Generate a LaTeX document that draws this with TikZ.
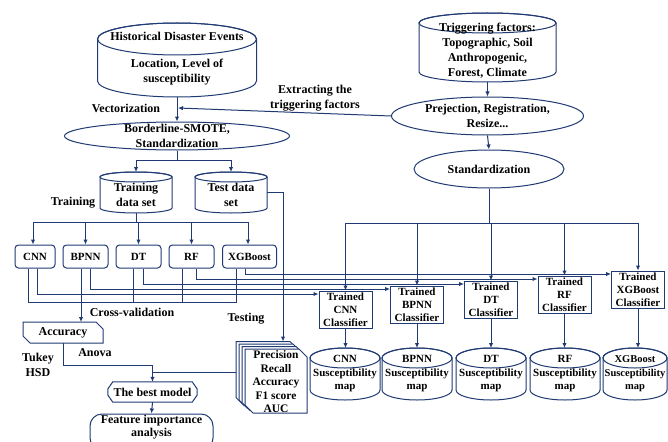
\documentclass[tikz,border=0pt]{standalone}
\usepackage{fontspec}
\setmainfont{Liberation Serif}
\usetikzlibrary{arrows.meta,shapes.geometric}
\definecolor{lc}{RGB}{32,58,115}
\tikzset{
  ln/.style={draw=lc, line width=1pt},
  arr/.style={ln, -{Latex[length=5pt,width=4.5pt]}},
  txt/.style={font=\fontsize{12}{15}\selectfont\bfseries, align=center, inner sep=0},
  stxt/.style={font=\fontsize{11}{13.5}\selectfont\bfseries, align=center, inner sep=0},
  mbox/.style={ln, fill=white, rounded corners=3.5pt, minimum height=23pt, inner sep=0, font=\fontsize{11}{13}\selectfont\bfseries},
  tbox/.style={ln, fill=white, minimum width=53pt, minimum height=37pt, inner sep=0, align=center, font=\fontsize{11}{13}\selectfont\bfseries},
  hole/.style={minimum width=#1, inner sep=0, outer sep=0},
  ell/.style={ellipse, ln, fill=white, inner sep=0}
}
% cylinder: name, x, y, width, height, ellipse radius
\newcommand\cyl[6]{%
  \node[inner sep=0, outer sep=0, minimum width=#4pt, minimum height=#5pt] (#1) at (#2,#3) {};
  \draw[ln, fill=white] ([yshift=-#6pt]#1.north west) -- ([yshift=#6pt]#1.south west)
     arc[start angle=180, end angle=360, x radius=0.5*#4pt, y radius=#6pt]
     -- ([yshift=-#6pt]#1.north east)
     arc[start angle=0, end angle=180, x radius=0.5*#4pt, y radius=#6pt] -- cycle;
  \draw[ln] ([yshift=-#6pt]#1.north) ellipse[x radius=0.5*#4pt, y radius=#6pt];
}
% box with chamfered north-east and south-west corners
\newcommand\chamfbox[2]{%
  \draw[ln, fill=white] (#1.north west) -- ([xshift=-#2]#1.north east) -- ([yshift=-#2]#1.north east)
     -- (#1.south east) -- ([xshift=#2]#1.south west) -- ([yshift=#2]#1.south west) -- cycle;
}
\begin{document}
\begin{tikzpicture}[x=1pt, y=-1pt]
\useasboundingbox (0,0) rectangle (668,441);
\clip (0,0) rectangle (668,441);
\fill[white] (0,0) rectangle (668,441);

% ---------- left column top ----------
\cyl{hist}{177}{60}{159}{74}{16}
\node[txt] (histA) at (177,36) {Historical Disaster Events};
\node[txt] (histB) at (177,72) {Location, Level of\\susceptibility};

\node[ell, minimum width=225pt, minimum height=28pt] (bsm) at (177,136) {};
\node[txt] (bsmT) at (177,136) {Borderline-SMOTE,\\Standardization};

\node[txt] (vec) at (126,108) {Vectorization};

\cyl{train}{136}{192.5}{72}{41}{5}
\node[txt] (trainT) at (136,195) {Training\\data set};
\cyl{test}{231}{192.5}{72}{41}{5}
\node[txt] (testT) at (231,195) {Test data\\set};
\node[txt] (trainL) at (73,203) {Training};

% ---------- right column top ----------
\cyl{trig}{487.5}{47.5}{137}{69}{10}
\node[txt] (trigT) at (487.5,50.5) {Triggering factors:\\Topographic, Soil\\Anthropogenic,\\Forest, Climate};
\node[ell, minimum width=192pt, minimum height=38pt] (prej) at (487.5,116) {};
\node[txt] (prejT) at (487.5,116) {Prejection, Registration,\\Resize...};
\node[ell, minimum width=150pt, minimum height=38pt] (std) at (489,169) {};
\node[txt] (stdT) at (489,169) {Standardization};
\node[txt] (extr) at (315,98) {Extracting the\\triggering factors};

\draw[arr] (hist.south) -- (bsm.north);
\draw[arr] (trig.south) -- (prej.north);
\draw[arr] (prej.south) -- (std.north);
\coordinate (ex) at (178,108);
\draw[arr] (prej.west) -- (ex);

\coordinate (s1) at (177,160);
\draw[ln] (bsm.south) -- (s1);
\draw[arr] (s1) -| (train.north);
\draw[arr] (s1) -| (test.north);

% ---------- models ----------
\node[mbox, minimum width=40pt] (cnn) at (35,256.5) {CNN};
\node[mbox, minimum width=45pt] (bpnn) at (85.5,256.5) {BPNN};
\node[mbox, minimum width=45pt] (dt) at (138.5,256.5) {DT};
\node[mbox, minimum width=45pt] (rf) at (191.5,256.5) {RF};
\node[mbox, minimum width=54pt] (xgb) at (249.5,256.5) {XGBoost};

\coordinate (mb) at (136,222);
\draw[ln] (train.south) -- (mb);
\draw[arr] (mb) -| ([xshift=-2pt]cnn.north);
\draw[arr] (mb) -| (bpnn.north);
\draw[arr] (mb) -| (dt.north);
\draw[arr] (mb) -| (rf.north);
\draw[arr] (mb) -| ([xshift=-1.5pt]xgb.north);

% ---------- trained classifiers ----------
\node[tbox] (tcnn) at (345.5,309.5) {Trained\\CNN\\Classifier};
\node[tbox] (tbpnn) at (417,304.5) {Trained\\BPNN\\Classifier};
\node[tbox] (tdt) at (491,299.5) {Trained\\DT\\Classifier};
\node[tbox] (trf) at (564.5,294.5) {Trained\\RF\\Classifier};
\node[tbox] (txgb) at (638,289.5) {Trained\\XGBoost\\Classifier};

\coordinate (sb) at (489,223);
\draw[ln] (std.south) -- (sb);
\draw[arr] (sb) -| (tcnn.north);
\draw[arr] (sb) -| (tbpnn.north);
\draw[arr] (sb) -| (tdt.north);
\draw[arr] (sb) -| (trf.north);
\draw[arr] (sb) -| (txgb.north);

% model -> trained classifier
\draw[arr] ([xshift=2pt]cnn.south) |- ([yshift=15.5pt]tcnn.west);
\draw[arr] ([xshift=4.5pt]bpnn.south) |- ([yshift=15.5pt]tbpnn.west);
\draw[arr] ([xshift=4.5pt]dt.south) |- ([yshift=15.5pt]tdt.west);
\draw[arr] ([xshift=4.5pt]rf.south) |- ([yshift=15.5pt]trf.west);
\draw[arr] ([xshift=-4.5pt]xgb.south) |- ([yshift=15.5pt]txgb.west);

% cross-validation bus
\draw[ln] ([xshift=-7pt]cnn.south) -- ++(0,34) -| ([xshift=-13.5pt]xgb.south);
\draw[ln] ([xshift=-5.5pt]dt.south) -- ++(0,34);
\draw[ln] ([xshift=-9.5pt]rf.south) -- ++(0,34);
\node[txt] (cvL) at (132,312) {Cross-validation};

% ---------- susceptibility maps ----------
\cyl{scnn}{345}{374}{70}{52}{10}
\node[stxt] (scnnT) at (345,374) {CNN\\Susceptibility\\map};
\cyl{sbpnn}{417}{374}{70}{52}{10}
\node[stxt] (sbpnnT) at (417,374) {BPNN\\Susceptibility\\map};
\cyl{sdt}{491}{374}{70}{52}{10}
\node[stxt] (sdtT) at (491,374) {DT\\Susceptibility\\map};
\cyl{srf}{565}{374}{70}{52}{10}
\node[stxt] (srfT) at (565,374) {RF\\Susceptibility\\map};
\cyl{sxgb}{635}{374}{64}{52}{10}
\node[stxt, font=\fontsize{10.5}{13.5}\selectfont\bfseries] (sxgbT) at (635,374) {XGBoost\\Susceptibility\\map};
\draw[arr] (tcnn.south) -- (tcnn.south |- scnn.north);
\draw[arr] (tbpnn.south) -- (tbpnn.south |- sbpnn.north);
\draw[arr] (tdt.south) -- (tdt.south |- sdt.north);
\draw[arr] (trf.south) -- (trf.south |- srf.north);
\draw[arr] (txgb.south) -- (txgb.south |- sxgb.north);

% ---------- evaluation stack ----------
\node[hole=62pt, minimum height=64pt] (st3) at (267,373.5) {};
\node[hole=62pt, minimum height=64pt] (st2) at (270,376) {};
\node[hole=62pt, minimum height=64pt] (st1) at (273,378.5) {};
\node[hole=62pt, minimum height=64pt] (st0) at (276,381) {};
\chamfbox{st3}{8pt}
\chamfbox{st2}{8pt}
\chamfbox{st1}{8pt}
\chamfbox{st0}{8pt}
\node[font=\fontsize{11.5}{13.5}\selectfont\bfseries, align=center, inner sep=0] (stT) at (276,382) {Precision\\Recall\\Accuracy\\F1 score\\AUC};
\coordinate (tx) at (283,0);
\draw[arr] (test.east) -| (tx |- st3.north);
\node[txt] (testL) at (246,319) {Testing};

% ---------- accuracy / best model ----------
\node[hole=80pt, minimum height=21pt] (acc) at (63,332.5) {};
\chamfbox{acc}{7pt}
\node[txt] (accT) at (63,332.5) {Accuracy};
\draw[arr] ([xshift=-4.5pt]bpnn.south) -- ([xshift=-4.5pt]bpnn.south |- acc.north);

\node[inner sep=0, minimum width=89pt, minimum height=20pt] (best) at (152.5,392) {};
\draw[ln, fill=white] (best.west) -- ([yshift=-3pt]best.west) -- ([xshift=5pt]best.south west)
  -- ([xshift=-5pt]best.south east) -- ([yshift=-3pt]best.east) -- ([yshift=3pt]best.east)
  -- ([xshift=-5pt]best.north east) -- ([xshift=5pt]best.north west) -- ([yshift=3pt]best.west) -- cycle;
\node[txt] (bestT) at (152.5,392) {The best model};

\coordinate (j1) at (152.5,365);
\coordinate (j2) at (152.5,372);
\draw[ln] (acc.south) |- (j1);
\draw[arr] (j1) -- (best.north);
\draw[ln] (j2) -- (j2 -| st3.west);
\node[txt] (anova) at (95,353) {Anova};
\node[txt] (tukey) at (38,365) {Tukey\\HSD};

\node[ln, fill=white, rounded corners=12pt, minimum width=123pt, minimum height=36pt, inner sep=0] (fia) at (151.5,432) {};
\node[txt, font=\fontsize{12}{12.5}\selectfont\bfseries] (fiaT) at (151.5,427) {Feature importance\\analysis};
\draw[arr] (best.south) -- (fia.north);
\end{tikzpicture}
\end{document}
